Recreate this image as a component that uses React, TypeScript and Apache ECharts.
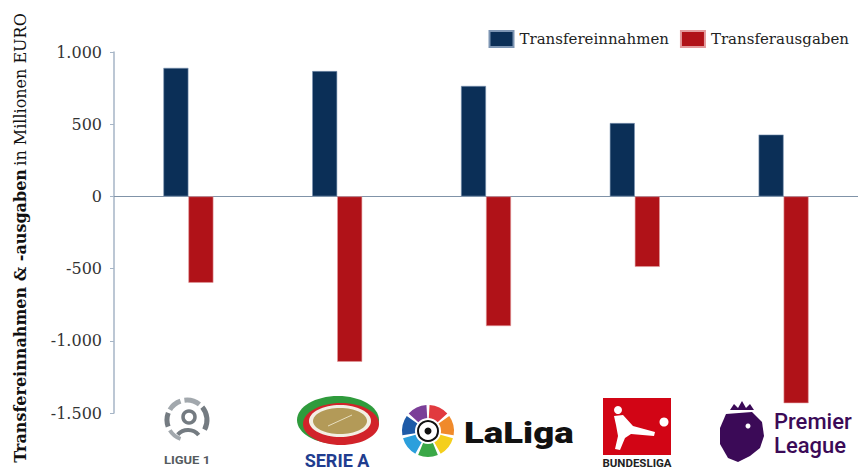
import React, { useEffect, useRef } from "react";
import * as echarts from "echarts";

const leagues = ["Ligue 1", "Serie A", "LaLiga", "Bundesliga", "Premier League"];
const einnahmen = [890, 868, 765, 508, 428];
const ausgaben = [-598, -1145, -898, -488, -1432];
const yTicks = [-1500, -1000, -500, 0, 500, 1000];

const SERIF = "'DejaVu Serif', 'Liberation Serif', serif";
const SANS = "Roboto, 'DejaVu Sans', sans-serif";

function fmt(v: number): string {
  const s = Math.abs(v).toString().replace(/\B(?=(\d{3})+(?!\d))/g, ".");
  return (v < 0 ? "-" : "") + s;
}

function ligue1(cx: number, cy: number): any[] {
  const g = "#a2a8ad";
  const d = "#747b81";
  return [
    { type: "arc", shape: { cx, cy, r: 20, startAngle: -2.6, endAngle: -1.9 }, style: { stroke: g, lineWidth: 5, fill: null } },
    { type: "arc", shape: { cx, cy, r: 20, startAngle: -1.7, endAngle: -0.9 }, style: { stroke: g, lineWidth: 5, fill: null } },
    { type: "arc", shape: { cx, cy, r: 20, startAngle: -0.7, endAngle: 0.5 }, style: { stroke: d, lineWidth: 5, fill: null } },
    { type: "arc", shape: { cx, cy, r: 20, startAngle: 2.8, endAngle: 3.5 }, style: { stroke: d, lineWidth: 5, fill: null } },
    { type: "arc", shape: { cx, cy, r: 20, startAngle: 1.9, endAngle: 2.6 }, style: { stroke: g, lineWidth: 4, fill: null } },
    { type: "circle", shape: { cx: cx + 2, cy: cy - 3, r: 6 }, style: { stroke: d, lineWidth: 3.5, fill: null } },
    { type: "arc", shape: { cx: cx + 1, cy: cy + 24, r: 14, startAngle: -2.4, endAngle: -0.7 }, style: { stroke: d, lineWidth: 4, fill: null } },
    { type: "text", x: cx, y: cy + 41, scaleX: 1.3, style: { text: "LIGUE 1", x: 0, y: 0, fill: "#555b60", font: `bold 10px ${SANS}`, textAlign: "center", textVerticalAlign: "middle" } },
  ];
}

function serieA(cx: number, cy: number): any[] {
  return [
    { type: "ellipse", shape: { cx, cy, rx: 41, ry: 24 }, style: { fill: "#2f9b3c" } },
    { type: "ellipse", shape: { cx: cx + 3, cy: cy + 4, rx: 38, ry: 21 }, style: { fill: "#d2232a" } },
    { type: "ellipse", shape: { cx: cx + 2, cy: cy + 1, rx: 31, ry: 16 }, style: { fill: "#f3efe4" } },
    { type: "ellipse", shape: { cx: cx + 2, cy: cy + 1, rx: 27, ry: 13 }, style: { fill: "#b39a58" } },
    { type: "line", shape: { x1: cx - 10, y1: cy + 6, x2: cx + 14, y2: cy - 5 }, style: { stroke: "#e8dfc0", lineWidth: 1 } },
    { type: "text", style: { text: "SERIE A", x: cx - 1, y: cy + 40, fill: "#1f3d8f", font: `bold 18px ${SANS}`, textAlign: "center", textVerticalAlign: "middle" } },
  ];
}

function laliga(cx: number, cy: number): any[] {
  const cols = ["#e13a3f", "#f08a2b", "#f4cf1c", "#3aa847", "#2c9fdc", "#1e5aa7", "#7b3f98"];
  const els: any[] = [];
  const step = (Math.PI * 2) / 7;
  cols.forEach((c, i) => {
    const s = -Math.PI / 2 + i * step + 0.06;
    els.push({
      type: "sector",
      shape: { cx, cy, r: 26, r0: 13, startAngle: s, endAngle: s + step - 0.12 },
      style: { fill: c },
    });
  });
  els.push({ type: "circle", shape: { cx, cy, r: 10 }, style: { fill: "#ffffff", stroke: "#111", lineWidth: 2 } });
  els.push({ type: "circle", shape: { cx, cy, r: 3.5 }, style: { fill: "#111" } });
  els.push({ type: "text", x: cx + 36, y: cy + 2, scaleX: 1.22, style: { text: "LaLiga", x: 0, y: 0, fill: "#111111", font: `900 30px ${SANS}`, textAlign: "left", textVerticalAlign: "middle" } });
  return els;
}

function bundesliga(x: number, y: number): any[] {
  return [
    { type: "rect", shape: { x, y, width: 68, height: 57 }, style: { fill: "#d20515" } },
    { type: "circle", shape: { cx: x + 15, cy: y + 12, r: 4 }, style: { fill: "#fff" } },
    { type: "polygon", shape: { points: [[x + 11, y + 18], [x + 20, y + 17], [x + 30, y + 28], [x + 52, y + 34], [x + 51, y + 38], [x + 28, y + 36], [x + 22, y + 40], [x + 17, y + 52], [x + 12, y + 51], [x + 15, y + 38], [x + 13, y + 27]] }, style: { fill: "#fff" } },
    { type: "circle", shape: { cx: x + 61, cy: y + 24, r: 4.5 }, style: { fill: "#fff" } },
    { type: "text", x: x + 34, y: y + 66, scaleX: 1.15, style: { text: "BUNDESLIGA", x: 0, y: 0, fill: "#222", font: `bold 10px ${SANS}`, textAlign: "center", textVerticalAlign: "middle" } },
  ];
}

function premier(cx: number, cy: number): any[] {
  const p = "#3b0a57";
  return [
    { type: "polygon", shape: { points: [[cx - 12, cy - 22], [cx - 8, cy - 28], [cx - 4, cy - 24], [cx, cy - 31], [cx + 4, cy - 24], [cx + 8, cy - 28], [cx + 12, cy - 22]] }, style: { fill: p } },
    { type: "polygon", shape: { points: [[cx - 16, cy - 18], [cx + 10, cy - 20], [cx + 20, cy - 10], [cx + 22, cy + 4], [cx + 18, cy + 16], [cx + 8, cy + 24], [cx - 4, cy + 30], [cx - 14, cy + 26], [cx - 22, cy + 12], [cx - 22, cy - 4]] }, style: { fill: p } },
    { type: "circle", shape: { cx: cx + 6, cy: cy - 6, r: 2.5 }, style: { fill: "#fff" } },
    { type: "text", style: { text: "Premier", x: cx + 32, y: cy - 11, fill: p, font: `500 22px ${SANS}`, textAlign: "left", textVerticalAlign: "middle" } },
    { type: "text", style: { text: "League", x: cx + 32, y: cy + 13, fill: p, font: `500 22px ${SANS}`, textAlign: "left", textVerticalAlign: "middle" } },
  ];
}

export default function App() {
  const ref = useRef<HTMLDivElement>(null);
  useEffect(() => {
    if (!ref.current) return;
    const chart = echarts.init(ref.current, undefined, { renderer: "svg" });
    chart.setOption({
      animation: false,
      backgroundColor: "#ffffff",
      legend: {
        right: 4,
        top: 25,
        itemWidth: 24,
        itemHeight: 16,
        itemGap: 11,
        icon: "rect",
        textStyle: { fontFamily: SERIF, fontSize: 15, color: "#222", padding: [0, 0, 0, 1] },
        data: ["Transfereinnahmen", "Transferausgaben"],
      },
      grid: { left: 114, top: 52, width: 750, height: 361 },
      xAxis: {
        type: "category",
        data: leagues,
        axisLine: { onZero: true, lineStyle: { color: "#8093a8", width: 1 } },
        axisTick: { show: false },
        axisLabel: { show: false },
      },
      yAxis: {
        type: "value",
        min: -1500,
        max: 1000,
        interval: 500,
        axisLine: { show: true, lineStyle: { color: "#a6b5c6", width: 1.5 } },
        axisTick: { show: true, inside: false, length: 4, lineStyle: { color: "#a6b5c6" } },
        splitLine: { show: false },
        axisLabel: {
          margin: 12,
          color: "#333",
          fontFamily: SERIF,
          fontSize: 16,
          formatter: (v: number) => (yTicks.includes(v) ? fmt(v) : ""),
        },
      },
      series: [
        {
          name: "Transfereinnahmen",
          type: "bar",
          data: einnahmen,
          barWidth: 25,
          barGap: "0%",
          itemStyle: { color: "#0b2f57", borderColor: "#7d95b3", borderWidth: 0.6 },
        },
        {
          name: "Transferausgaben",
          type: "bar",
          data: ausgaben,
          barWidth: 25,
          barGap: "0%",
          itemStyle: { color: "#b01218", borderColor: "#e39a9c", borderWidth: 0.6 },
        },
      ],
      graphic: [
        {
          type: "text",
          rotation: Math.PI / 2,
          x: 20,
          y: 238,
          style: {
            text: "{b|Transfereinnahmen & -ausgaben} {n|in Millionen EURO}",
            textAlign: "center",
            textVerticalAlign: "middle",
            fill: "#111",
            rich: {
              b: { fontFamily: SERIF, fontSize: 16, fontWeight: "bold", fill: "#111" },
              n: { fontFamily: SERIF, fontSize: 16, fontWeight: "normal", fill: "#111" },
            },
          },
        },
        ...ligue1(187, 420),
        ...serieA(338, 420),
        ...laliga(428, 431),
        ...bundesliga(603, 398),
        ...premier(742, 432),
      ],
    });
    return () => chart.dispose();
  }, []);
  return <div ref={ref} style={{ position: "fixed", left: 0, top: 0, width: 858, height: 471 }} />;
}
